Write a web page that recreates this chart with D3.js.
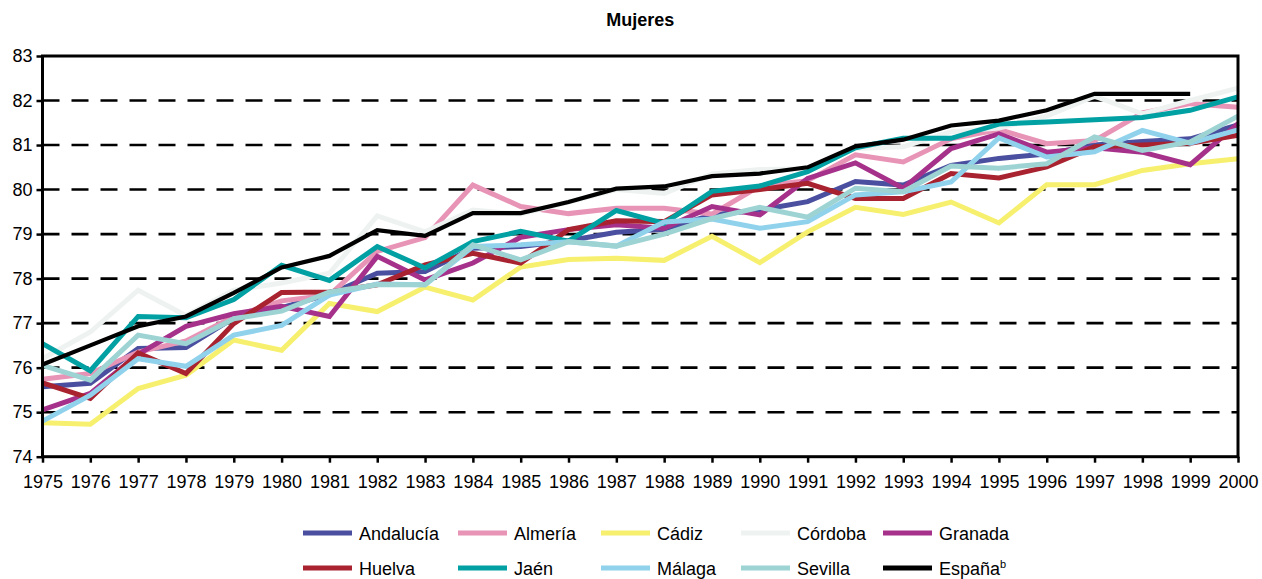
<!DOCTYPE html>
<html>
<head>
<meta charset="utf-8">
<script src="https://cdn.jsdelivr.net/npm/d3@7"></script>
<style>
  body { margin: 0; background: #fff; }
  text { font-family: "Liberation Sans", Arial, sans-serif; fill: #000; }
</style>
</head>
<body>
<svg id="chart" width="1262" height="579"></svg>
<script>
// Chart data
var years = d3.range(1975, 2001);
var yTicks = [74, 75, 76, 77, 78, 79, 80, 81, 82, 83];

var andalucia = [75.57, 75.65, 76.43, 76.45, 77.12, 77.35, 77.65, 78.12, 78.16, 78.68, 78.72, 78.85, 79.04, 79.11, 79.43, 79.54, 79.73, 80.18, 80.1, 80.54, 80.7, 80.8, 81.0, 81.08, 81.14, 81.45];
var almeria = [75.74, 75.87, 76.35, 76.6, 77.15, 77.5, 77.63, 78.61, 78.92, 80.1, 79.62, 79.46, 79.58, 79.58, 79.45, 80.08, 80.2, 80.78, 80.62, 81.14, 81.35, 81.03, 81.1, 81.72, 81.93, 81.85];
var cadiz = [74.76, 74.73, 75.53, 75.83, 76.62, 76.39, 77.44, 77.26, 77.81, 77.52, 78.26, 78.43, 78.46, 78.41, 78.95, 78.36, 79.05, 79.6, 79.44, 79.72, 79.25, 80.11, 80.11, 80.43, 80.58, 80.69];
var cordoba = [76.2, 76.8, 77.74, 77.17, 77.74, 77.9, 78.12, 79.41, 79.05, 79.54, 79.45, 79.72, 80.0, 79.91, 80.35, 80.45, 80.47, 80.92, 80.96, 81.3, 81.38, 81.65, 82.1, 81.7, 82.0, 82.28];
var granada = [75.05, 75.42, 76.3, 76.93, 77.21, 77.38, 77.15, 78.5, 77.97, 78.35, 78.93, 79.1, 79.21, 79.13, 79.62, 79.43, 80.25, 80.6, 80.03, 80.92, 81.25, 80.84, 80.94, 80.84, 80.56, 81.48];
var huelva = [75.66, 75.31, 76.33, 75.87, 76.99, 77.69, 77.7, 77.86, 78.31, 78.57, 78.35, 79.1, 79.3, 79.28, 79.88, 80.0, 80.14, 79.8, 79.8, 80.36, 80.26, 80.51, 80.96, 81.0, 81.04, 81.22];
var jaen = [76.54, 75.93, 77.15, 77.12, 77.53, 78.3, 77.96, 78.72, 78.24, 78.83, 79.06, 78.84, 79.53, 79.24, 79.96, 80.08, 80.4, 80.94, 81.15, 81.15, 81.47, 81.52, 81.57, 81.62, 81.78, 82.08];
var malaga = [74.8, 75.38, 76.2, 76.03, 76.73, 76.95, 77.63, 77.88, 77.86, 78.72, 78.76, 78.83, 78.73, 79.27, 79.34, 79.13, 79.28, 79.88, 79.95, 80.17, 81.16, 80.73, 80.85, 81.33, 81.04, 81.34];
var sevilla = [76.05, 75.72, 76.73, 76.54, 77.1, 77.27, 77.7, 77.86, 77.86, 78.76, 78.42, 78.83, 78.73, 79.0, 79.35, 79.6, 79.38, 80.03, 79.95, 80.53, 80.48, 80.58, 81.18, 80.88, 81.07, 81.65];
var espana = [76.07, 76.5, 76.93, 77.15, 77.68, 78.25, 78.51, 79.09, 78.96, 79.47, 79.47, 79.72, 80.02, 80.07, 80.3, 80.36, 80.5, 80.97, 81.12, 81.44, 81.55, 81.78, 82.15, 82.15, 82.15, null];

var seriesNames = ["Andalucía", "Almería", "Cádiz", "Córdoba", "Granada", "Huelva", "Jaén", "Málaga", "Sevilla", "España"];
var seriesValues = [andalucia, almeria, cadiz, cordoba, granada, huelva, jaen, malaga, sevilla, espana];
var seriesColors = ["#4b4f9f", "#e894b6", "#f6f06e", "#eef3f2", "#a6318a", "#a8232f", "#00a0a3", "#90d2ec", "#9dd3d3", "#000000"];

var svg = d3.select("#chart"),
    plotLeft = 42.5, plotRight = 1238, plotTop = 56, plotBottom = 456.7;

var x = d3.scaleLinear().domain([1975, 2000]).range([plotLeft, plotRight]);
var y = d3.scaleLinear().domain([74, 83]).range([plotBottom, plotTop]);

// title
svg.append("text")
  .attr("x", (plotLeft + plotRight) / 2)
  .attr("y", 26)
  .attr("text-anchor", "middle")
  .style("font-weight", "bold")
  .style("font-size", "18px")
  .text("Mujeres");

// dashed gridlines
svg.append("g")
  .selectAll("line")
  .data(yTicks.slice(1, -1))
  .join("line")
    .attr("x1", plotLeft)
    .attr("x2", plotRight)
    .attr("y1", function(d) { return y(d); })
    .attr("y2", function(d) { return y(d); })
    .attr("stroke", "#000")
    .attr("stroke-width", 2.6)
    .attr("stroke-dasharray", "17,12");

// lines
var line = d3.line()
  .defined(function(d) { return d != null; })
  .x(function(d, i) { return x(years[i]); })
  .y(function(d) { return y(d); });

svg.append("g")
  .selectAll("path")
  .data(seriesValues)
  .join("path")
    .attr("d", line)
    .attr("fill", "none")
    .attr("stroke", function(d, i) { return seriesColors[i]; })
    .attr("stroke-width", function(d, i) { return i == 9 ? 4.2 : 5; })
    .attr("stroke-linejoin", "miter");

// frame
svg.append("rect")
  .attr("x", plotLeft)
  .attr("y", plotTop)
  .attr("width", plotRight - plotLeft)
  .attr("height", plotBottom - plotTop)
  .attr("fill", "none")
  .attr("stroke", "#000")
  .attr("stroke-width", 3);

// axes
var yAxis = svg.append("g")
  .attr("transform", "translate(" + plotLeft + ",0)")
  .call(d3.axisLeft(y).tickValues(yTicks).tickSize(6).tickPadding(4).tickFormat(d3.format("d")));

var xAxis = svg.append("g")
  .attr("transform", "translate(0," + plotBottom + ")")
  .call(d3.axisBottom(x).tickValues(years).tickSize(6).tickPadding(13).tickFormat(d3.format("d")));

[xAxis, yAxis].forEach(function(a) {
  a.select(".domain").remove();
  a.selectAll(".tick line").attr("stroke", "#000").attr("stroke-width", 2.5);
  a.selectAll(".tick text")
    .style("font-family", "'Liberation Sans', Arial, sans-serif")
    .style("font-size", "18px")
    .attr("fill", "#000");
});

// legend
var legendX = [303, 458, 601, 741, 883],
    legendY = [533, 568];

var legend = svg.append("g")
  .selectAll("g")
  .data(seriesNames)
  .join("g")
    .attr("transform", function(d, i) {
      return "translate(" + legendX[i % 5] + "," + legendY[Math.floor(i / 5)] + ")";
    });

legend.append("line")
  .attr("x1", 0)
  .attr("x2", 49)
  .attr("stroke", function(d, i) { return seriesColors[i]; })
  .attr("stroke-width", 5);

legend.append("text")
  .attr("x", 56)
  .attr("y", 6.5)
  .style("font-size", "18px")
  .text(function(d) { return d; })
  .filter(function(d) { return d == "España"; })
  .append("tspan")
    .attr("dy", -7)
    .style("font-size", "11px")
    .text("b");
</script>
</body>
</html>
